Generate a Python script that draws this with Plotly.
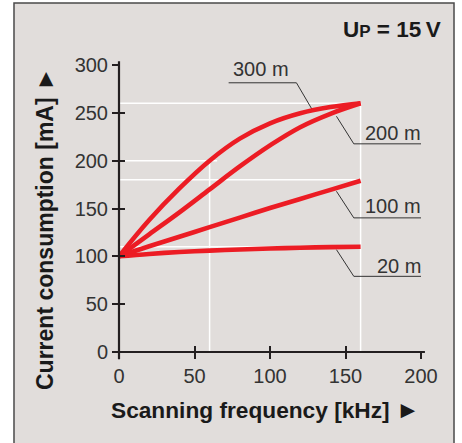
import plotly.graph_objects as go

# ---- data ----
freq_khz = [0, 20, 40, 60, 80, 100, 120, 140, 160]
current_300m = [100, 138, 171, 200, 223, 239, 249.5, 256, 260]
current_200m = [100, 123, 146, 170, 194, 216, 235, 249, 260]
current_100m = [100, 110.5, 120.5, 130.5, 140.5, 150.5, 160, 169.5, 179]
current_20m = [100, 102.5, 104.5, 106, 107.2, 108.2, 109, 109.6, 110]
series_names = ["300 m", "200 m", "100 m", "20 m"]

x_ticks = [0, 50, 100, 150, 200]
y_ticks = [0, 50, 100, 150, 200, 250, 300]

# reference (white) lines: (value, start, end)
ref_h = [(260, 0, 160), (200, 0, 65), (180, 0, 160), (110, 0, 160)]
ref_v = [(60, 0, 200), (160, 0, 260)]

# label leader lines (x list, y list) and label anchor positions (data units)
leader_x = [[72.6, 117.5, 128.3], [144, 155.5, 200.3], [144, 155.5, 200.3], [144, 155.5, 200.3]]
leader_y = [[281.4, 281.4, 252.4], [246.4, 217.6, 217.6], [168, 140.2, 140.2], [107, 79.1, 79.1]]
label_x = [94.3, 201.5, 201.5, 201.5]
label_y = [295.3, 229, 152.3, 89.5]
label_anchor = ["center", "right", "right", "right"]

X_RANGE = [0, 200]
Y_RANGE = [0, 300]

RED = "#ec1c24"
BG = "#e1dddb"
TXT = "#333333"
FONT = "Liberation Sans"

fig = go.Figure()

for x, y in zip(leader_x, leader_y):
    fig.add_trace(go.Scatter(x=x, y=y, mode="lines",
                             line=dict(color="#333333", width=1),
                             hoverinfo="skip", showlegend=False, cliponaxis=False))

for ys, name in zip([current_300m, current_200m, current_100m, current_20m], series_names):
    fig.add_trace(go.Scatter(x=freq_khz, y=ys, mode="lines", name=name,
                             line=dict(color=RED, width=4.6, shape="spline", smoothing=1.1),
                             showlegend=False, cliponaxis=False))

# invisible trace for the overlay axes (inside ticks)
fig.add_trace(go.Scatter(x=[0], y=[0], xaxis="x2", yaxis="y2", mode="markers",
                         marker=dict(opacity=0), hoverinfo="skip", showlegend=False))

shapes = []
# background frame
shapes.append(dict(type="rect", xref="paper", yref="paper",
                   x0=-0.3477, x1=1.1093, y0=-0.5, y1=1.216,
                   fillcolor=BG, line=dict(color="#4a4a4a", width=1.5), layer="below"))
for v, a, b in ref_h:
    shapes.append(dict(type="line", xref="x", yref="y", x0=a, x1=b, y0=v, y1=v,
                       line=dict(color="white", width=1.5), layer="below"))
for v, a, b in ref_v:
    shapes.append(dict(type="line", xref="x", yref="y", x0=v, x1=v, y0=a, y1=b,
                       line=dict(color="white", width=1.5), layer="below"))
# axis lines slightly extended
shapes.append(dict(type="line", xref="paper", yref="paper", x0=-0.02, x1=1.013, y0=0, y1=0,
                   line=dict(color="#231f20", width=2.2)))
shapes.append(dict(type="line", xref="paper", yref="paper", x0=0, x1=0, y0=-0.025, y1=1.013,
                   line=dict(color="#231f20", width=2.2)))

annotations = []
for name, lx, ly, anc in zip(series_names, label_x, label_y, label_anchor):
    annotations.append(dict(x=(lx - X_RANGE[0]) / (X_RANGE[1] - X_RANGE[0]),
                            y=(ly - Y_RANGE[0]) / (Y_RANGE[1] - Y_RANGE[0]),
                            xref="paper", yref="paper", text=name, showarrow=False,
                            xanchor=anc, yanchor="middle",
                            font=dict(family=FONT, size=20, color=TXT)))
annotations.append(dict(x=1.0023, y=-0.199, xref="paper", yref="paper",
                        text="<b>Scanning frequency [kHz] <span style='font-size:24px'>►</span></b>",
                        showarrow=False, xanchor="right", yanchor="middle",
                        font=dict(family=FONT, size=22.7, color="#1a1a1a")))
annotations.append(dict(x=-0.245, y=0.4286, xref="paper", yref="paper",
                        text="<b>Current consumption [mA] <span style='font-size:24px'>►</span></b>",
                        showarrow=False, textangle=-90, xanchor="center", yanchor="middle",
                        font=dict(family=FONT, size=23, color="#1a1a1a")))
annotations.append(dict(x=1.073, y=1.122, xref="paper", yref="paper",
                        text="<b>U<span style='font-size:17px'>P</span> = 15\u2009V</b>",
                        showarrow=False, xanchor="right", yanchor="middle",
                        font=dict(family=FONT, size=22.5, color="#1a1a1a")))

axis_common = dict(showgrid=False, zeroline=False, showline=False,
                   ticks="outside", ticklen=6, tickwidth=1.8, tickcolor="#231f20",
                   tickfont=dict(family=FONT, size=20, color=TXT))

fig.update_layout(
    width=462, height=443,
    margin=dict(l=119, r=41, t=65, b=91),
    paper_bgcolor="white",
    plot_bgcolor="rgba(0,0,0,0)",
    xaxis=dict(range=X_RANGE, tickvals=x_ticks, **axis_common),
    yaxis=dict(range=Y_RANGE, tickvals=y_ticks, **axis_common),
    xaxis2=dict(range=X_RANGE, tickvals=x_ticks, overlaying="x", anchor="y2",
                showgrid=False, zeroline=False, showline=False, showticklabels=False,
                ticks="inside", ticklen=6, tickwidth=1.8, tickcolor="#231f20", side="bottom"),
    yaxis2=dict(range=Y_RANGE, tickvals=y_ticks, overlaying="y", anchor="x2",
                showgrid=False, zeroline=False, showline=False, showticklabels=False,
                ticks="inside", ticklen=6, tickwidth=1.8, tickcolor="#231f20", side="left"),
    shapes=shapes,
    annotations=annotations,
    showlegend=False,
)

fig.write_html("out.html", config={"displayModeBar": False},
               post_script="document.body.style.margin='0px';")
